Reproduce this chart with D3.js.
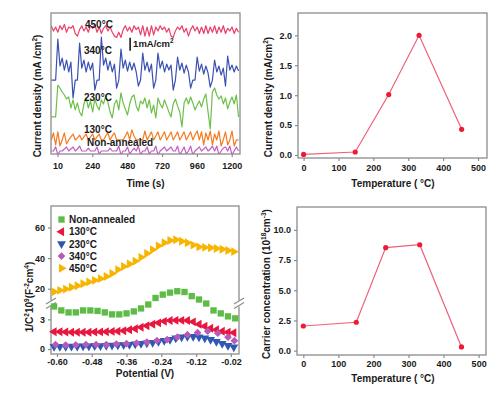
<!DOCTYPE html>
<html>
<head>
<meta charset="utf-8">
<script src="https://cdn.jsdelivr.net/npm/d3@7"></script>
<style>
  body { margin: 0; background: #fff; }
  svg text { font-family: Arial, "Liberation Sans", sans-serif; font-weight: bold; fill: #1a1a1a; }
</style>
</head>
<body>
<div id="chart"></div>
<script>
// ---- panel a: photocurrent vs time (mA/cm2 above each trace's dark level) ----
const timeStart = -43, timeStep = 15;
const traceNames = ['Non-annealed', '130°C', '230°C', '340°C', '450°C'];
const traceOffsets = [0.23, 1.08, 2.85, 5.69, 8.77];
const jNon = [0,0,0.31,-0.31,0,0,0.15,0.31,0,0.15,0.31,0,0.15,0.38,0,0,0,0.23,0,0,0,0.31,-0.23,0,0,0,0,0.23,0,0,
  0,0.38,-0.31,0,0,0.31,-0.23,0,0.23,0,0.38,-0.31,0,0,0.31,-0.23,0,0,0.38,-0.31,0,0.15,0.31,0,0.15,0.31,0,0,0.38,-0.31,
  0,0.31,-0.23,0,0.38,-0.31,0,0.15,0.31,0,0.15,0.31,0,0.15,0.38,0,0.38,-0.31,0,0.23,0.31,0,0.38,-0.31,0,0.31,0];
const j130 = [0,0.54,-0.38,0.62,-0.46,0,0.54,-0.31,0,0.23,0.46,0,0.15,0.38,0,0.23,0.46,0,0.23,0.46,0,0.23,0.46,0,0,0.31,0.54,0,0.31,0.54,
  0,0,0,0,0.31,0.62,0,0.77,0.31,0,0,0,0,0.69,0,0.31,0.62,0,0.31,0.62,0,0.31,0.62,0,0.31,0.62,0,0.31,0.62,0,
  0.31,0.62,0,0.31,0.62,0,0.38,0.69,0,0.62,-0.38,0.54,0,0.69,-0.38,0.46,0,0.69,-0.46,0,0.62,-0.38,0,0.69,-0.46,0,0];
const j230 = [0,0,0,2.46,2.23,1.92,1.69,1.38,1.54,0.69,1.31,0.54,1.08,0.38,0.08,1.0,1.46,0.69,1.23,0.38,1.38,0.85,0.54,1.31,1.0,1.62,1.15,0.38,-0.08,1.0,
  1.31,0.54,1.85,1.08,0.62,0.15,1.0,1.54,1.69,0.85,0.46,1.23,1.0,1.46,0.69,1.31,0.31,0.92,-0.08,1.46,1.0,0.69,1.31,0.85,0.38,0,1.0,1.38,0.85,0.38,
  -0.77,1.08,1.46,1.0,1.54,1.08,0.54,0.92,1.23,0.77,1.38,1.77,0.38,-0.92,1.92,2.23,1.69,1.38,1.62,1.0,1.46,0.62,1.15,1.54,1.0,1.69,0];
const j340 = [0,0,0,3.15,1.08,1.69,0.77,1.54,0.62,1.38,-1.38,0,0,2.85,0.92,1.54,0.62,1.38,0.77,1.31,-0.77,0,0,3.31,1.15,1.69,0.77,1.46,0.62,1.23,
  -0.62,0,2.38,0.92,1.54,0.69,1.38,0.77,1.31,0.62,-0.46,0,2.08,0.77,1.38,0.62,1.23,-0.62,0,2.08,0.92,1.46,0.62,1.23,0.77,1.15,-0.77,0,1.77,0.77,
  1.31,0.54,1.15,0.62,-0.62,0,0,1.77,0.69,1.23,0.46,1.08,0.54,-0.54,0,1.54,0.62,1.08,0.38,0.92,-0.46,1.85,0.77,1.15,0.62,1.08,0.69];
const j450 = [1.1,0.7,1.0,0.6,1.1,0.8,1.2,0.6,1.0,0.9,1.1,0.5,0.3,0.8,1.1,0.7,1.0,0.6,1.1,0.9,1.2,0.6,1.0,0.5,0.9,1.1,0.7,1.0,0.6,0.3,
  0.2,0.6,0.2,0.8,1.1,0.7,1.0,0.6,1.1,0.8,1.0,0.4,1.1,0.3,1.0,0.3,1.1,0.4,1.0,0.7,1.1,0.8,1.0,0.6,0.9,0.3,0.2,0.7,1.0,0.8,
  1.1,0.6,0.9,0.3,0.8,1.1,0.7,1.0,0.5,1.0,0.5,1.1,0.5,1.0,0.6,1.1,0.5,1.0,0.6,1.1,0.5,0.9,0.7,1.0,0.5,0.9,0.6];
const timeTicks = [0, 240, 480, 720, 960, 1200];
const timeTickLabels = ['10', '240', '480', '720', '960', '1200'];

// ---- panel b: current density vs temperature ----
const jTemps = [0, 148, 244, 331, 453];
const jValues = [0.01, 0.05, 1.01, 2.0, 0.43];

// ---- panel c: Mott-Schottky, 1/C^2 (10^9 F^-2 cm^4) ----
const potential = [-0.61,-0.59,-0.57,-0.55,-0.53,-0.51,-0.49,-0.47,-0.45,-0.43,-0.41,-0.39,-0.37,-0.35,-0.33,-0.31,
  -0.29,-0.27,-0.25,-0.23,-0.21,-0.19,-0.17,-0.15,-0.13,-0.11,-0.09,-0.07,-0.05,-0.03,-0.01,0.01];
const potentialNon = [-0.61,-0.585,-0.56,-0.535,-0.51,-0.485,-0.46,-0.435,-0.41,-0.385,-0.36,-0.335,-0.31,
  -0.285,-0.26,-0.235,-0.21,-0.185,-0.16,-0.135,-0.11,-0.085,-0.06,-0.035,-0.01,0.015];
const potential340 = [-0.605,-0.57,-0.535,-0.5,-0.465,-0.43,-0.395,-0.36,-0.325,-0.29,-0.255,-0.22,-0.185,
  -0.15,-0.115,-0.08,-0.045,-0.01,0.012];
const msNon = [4.3,3.9,3.7,3.7,3.9,3.9,3.85,3.7,3.5,3.5,3.6,3.8,4.1,4.5,14,16.2,17.5,18.4,17.9,15.2,13,4.6,3.9,3.6,3.3,3.1];
const ms130 = [1.75,1.75,1.72,1.7,1.7,1.7,1.7,1.72,1.73,1.75,1.78,1.8,1.85,1.95,2.05,2.2,
  2.35,2.5,2.65,2.8,2.88,2.9,2.9,2.88,2.75,2.5,2.3,2.1,1.95,1.8,1.7,1.65];
const ms230 = [0.25,0.25,0.25,0.28,0.28,0.3,0.3,0.32,0.33,0.35,0.38,0.4,0.42,0.45,0.5,0.55,
  0.6,0.65,0.75,0.85,0.95,1.1,1.2,1.25,1.25,1.2,1.1,0.95,0.75,0.55,0.35,0.2];
const ms340 = [0.45,0.4,0.42,0.45,0.45,0.45,0.5,0.55,0.6,0.7,0.85,0.95,1.2,1.45,1.65,1.8,1.6,1.2,0.85];
const ms450 = [18.0,19.0,19.8,21.0,22.0,23.3,24.5,25.5,26.6,28.0,30.0,32.5,34.5,36.2,38.0,40.5,
  43.0,45.5,48.0,50.0,51.5,52.0,51.0,50.0,48.5,47.3,47.0,46.8,46.3,45.8,45.0,44.2];
const potTicks = [-0.6, -0.48, -0.36, -0.24, -0.12, 0];
const potTickLabels = ['-0.60', '-0.48', '-0.36', '-0.24', '-0.12', '-0.02'];
const msTicks = [0, 3, 20, 40, 60];

// ---- panel d: carrier concentration vs temperature ----
const nTemps = [0, 151, 235, 332, 451];
const nValues = [2.04, 2.35, 8.53, 8.77, 0.31];

const frameColor = '#8c8c8c';
const svg = d3.select('#chart').append('svg').attr('width', 500).attr('height', 394);

function drawFrame(x0, y0, x1, y1) {
  svg.append('rect').attr('x', x0).attr('y', y0).attr('width', x1 - x0).attr('height', y1 - y0)
    .attr('fill', 'none').attr('stroke', frameColor).attr('stroke-width', 1.3);
}

function styleAxis(g) {
  g.select('.domain').remove();
  g.selectAll('.tick line').attr('stroke', frameColor).attr('stroke-width', 1.2);
  g.selectAll('.tick text').style('font-size', '9px').attr('fill', '#1a1a1a');
}

function rich(text, parts) {
  let up = false;
  parts.forEach(([s, sup]) => {
    const t = text.append('tspan').text(s);
    if (sup) {
      t.style('font-size', '6.5px');
      if (!up) { t.attr('dy', -4); up = true; }
    } else if (up) { t.attr('dy', 4); up = false; }
  });
}

function yTitle(x, y, parts) {
  const t = svg.append('text').attr('transform', `translate(${x},${y}) rotate(-90)`)
    .attr('text-anchor', 'middle').attr('dy', '0.35em').style('font-size', '10px');
  rich(t, parts);
}

function xTitle(x, y, parts) {
  const t = svg.append('text').attr('x', x).attr('y', y).attr('text-anchor', 'middle').style('font-size', '10px');
  rich(t, parts);
}

// ================= panel a =================
const x1 = d3.scaleLinear().domain([-45, 1257]).range([51, 240]);
const y1 = d3.scaleLinear().domain([0, 10.85]).range([154, 13]);

svg.append('clipPath').attr('id', 'clipA').append('rect').attr('x', 51).attr('y', 13).attr('width', 189).attr('height', 141);

const traces = [jNon, j130, j230, j340, j450];
const traceColors = ['#c65ac6', '#f47b20', '#6cc04a', '#3a50b2', '#e8406a'];
traces.forEach((vals, k) => {
  const line = d3.line()
    .x((d, i) => x1(timeStart + i * timeStep))
    .y(d => y1(traceOffsets[k] + d));
  svg.append('path').datum(vals).attr('d', line).attr('clip-path', 'url(#clipA)')
    .attr('fill', 'none').attr('stroke', traceColors[k]).attr('stroke-width', 1.2).attr('stroke-linejoin', 'round');
});

const traceLabels = [
  { text: 'Non-annealed', x: 87, y: 146 },
  { text: '130°C', x: 84, y: 133 },
  { text: '230°C', x: 84, y: 101 },
  { text: '340°C', x: 84, y: 54 },
  { text: '450°C', x: 85, y: 28 }
];
svg.selectAll('.tlab').data(traceLabels).enter().append('text')
  .attr('x', d => d.x).attr('y', d => d.y).style('font-size', '10px').text(d => d.text);

// 1 mA/cm2 scale bar
svg.append('line').attr('x1', x1(500)).attr('x2', x1(500)).attr('y1', y1(7.95)).attr('y2', y1(8.95))
  .attr('stroke', '#1a1a1a').attr('stroke-width', 1.6);
const sb = svg.append('text').attr('x', x1(500) + 3).attr('y', 47).style('font-size', '9.5px');
rich(sb, [['1mA/cm'], ['2', true]]);

drawFrame(51, 13, 240, 154);
svg.append('g').attr('transform', 'translate(0,154)')
  .call(d3.axisBottom(x1).tickValues(timeTicks).tickFormat((d, i) => timeTickLabels[i]).tickSize(3).tickPadding(6))
  .call(styleAxis);
xTitle(145.5, 187, [['Time (s)']]);
yTitle(37, 96, [['Current density (mA /cm'], ['2', true], [')']]);

// ================= panel b =================
const x2 = d3.scaleLinear().domain([-16, 525.7]).range([298, 487]);
const y2 = d3.scaleLinear().domain([-0.05, 2.368]).range([158, 13.3]);
drawFrame(298, 13, 487, 158);
svg.append('g').attr('transform', 'translate(0,158)')
  .call(d3.axisBottom(x2).tickValues([0, 100, 200, 300, 400, 500]).tickSize(3).tickPadding(4)).call(styleAxis);
svg.append('g').attr('transform', 'translate(298,0)')
  .call(d3.axisLeft(y2).tickValues([0, 0.5, 1, 1.5, 2]).tickFormat(d3.format('.1f')).tickSize(3).tickPadding(3)).call(styleAxis);
const ptsB = jTemps.map((t, i) => [t, jValues[i]]);
svg.append('path').datum(ptsB).attr('d', d3.line().x(d => x2(d[0])).y(d => y2(d[1])))
  .attr('fill', 'none').attr('stroke', '#f0607a').attr('stroke-width', 1.2);
svg.selectAll('.ptb').data(ptsB).enter().append('circle')
  .attr('cx', d => x2(d[0])).attr('cy', d => y2(d[1])).attr('r', 2.6).attr('fill', '#ee1b35');
xTitle(393, 187, [['Temperature ( °C)']]);
yTitle(268.5, 97, [['Current density (mA/cm'], ['2', true], [')']]);

// ================= panel c =================
const x3 = d3.scaleLinear().domain([-0.6206, 0.028]).range([51, 239]);
const y3 = d3.scaleLinear().domain([-0.5, 4.6, 10.4, 74]).range([354, 303.5, 303.5, 206]);
drawFrame(51, 206, 239, 354);
svg.append('g').attr('transform', 'translate(0,354)')
  .call(d3.axisBottom(x3).tickValues(potTicks).tickFormat((d, i) => potTickLabels[i]).tickSize(3).tickPadding(2))
  .call(styleAxis);
svg.append('g').attr('transform', 'translate(51,0)')
  .call(d3.axisLeft(y3).tickValues(msTicks).tickFormat(d3.format('d')).tickSize(3).tickPadding(3)).call(styleAxis);

// axis break marks
[51, 239].forEach(bx => {
  svg.append('rect').attr('x', bx - 2).attr('y', 300.5).attr('height', 6).attr('width', 4).attr('fill', '#fff');
  [0, 4.5].forEach(dyb => {
    svg.append('line').attr('x1', bx - 5).attr('y1', 304 + dyb).attr('x2', bx + 5).attr('y2', 298 + dyb)
      .attr('stroke', frameColor).attr('stroke-width', 1.2);
  });
});

const msSeries = [
  { name: 'Non-annealed', xs: potentialNon, ys: msNon, color: '#5dbb46', type: d3.symbolSquare, rot: 0, size: 40 },
  { name: '130°C', xs: potential, ys: ms130, color: '#e8173f', type: d3.symbolTriangle, rot: -90, size: 34 },
  { name: '230°C', xs: potential, ys: ms230, color: '#2f58b4', type: d3.symbolTriangle, rot: 180, size: 34 },
  { name: '340°C', xs: potential340, ys: ms340, color: '#b65ab8', type: d3.symbolSquare, rot: 45, size: 30 },
  { name: '450°C', xs: potential, ys: ms450, color: '#f7b500', type: d3.symbolTriangle, rot: 90, size: 34 }
];
msSeries.forEach(s => {
  const sym = d3.symbol().type(s.type).size(s.size);
  svg.append('g').selectAll('path').data(s.xs.map((v, i) => [v, s.ys[i]])).enter().append('path')
    .attr('d', sym).attr('fill', s.color)
    .attr('transform', d => `translate(${x3(d[0])},${y3(d[1])}) rotate(${s.rot})`);
});

// legend
msSeries.forEach((s, i) => {
  const ly = 219.5 + i * 12.2;
  svg.append('path').attr('d', d3.symbol().type(s.type).size(s.size)()).attr('fill', s.color)
    .attr('transform', `translate(61.5,${ly}) rotate(${s.rot})`);
  svg.append('text').attr('x', 69).attr('y', ly + 3.6).style('font-size', '10px').text(s.name);
});
xTitle(145, 377, [['Potential (V)']]);
yTitle(29, 297, [['1/C'], ['2', true], ['10'], ['9', true], ['(F'], ['-2', true], ['cm'], ['4', true], [')']]);

// ================= panel d =================
const x4 = d3.scaleLinear().domain([-18, 521]).range([297, 486]);
const y4 = d3.scaleLinear().domain([-0.36, 11.87]).range([355, 207.3]);
drawFrame(297, 207, 486, 355);
svg.append('g').attr('transform', 'translate(0,355)')
  .call(d3.axisBottom(x4).tickValues([0, 100, 200, 300, 400, 500]).tickSize(3).tickPadding(3)).call(styleAxis);
svg.append('g').attr('transform', 'translate(297,0)')
  .call(d3.axisLeft(y4).tickValues([0, 2.5, 5, 7.5, 10]).tickFormat(d3.format('.1f')).tickSize(3).tickPadding(3)).call(styleAxis);
const ptsD = nTemps.map((t, i) => [t, nValues[i]]);
svg.append('path').datum(ptsD).attr('d', d3.line().x(d => x4(d[0])).y(d => y4(d[1])))
  .attr('fill', 'none').attr('stroke', '#f0607a').attr('stroke-width', 1.2);
svg.selectAll('.ptd').data(ptsD).enter().append('circle')
  .attr('cx', d => x4(d[0])).attr('cy', d => y4(d[1])).attr('r', 2.6).attr('fill', '#ee1b35');
xTitle(393, 382, [['Temperature ( °C)']]);
yTitle(266.5, 284, [['Carrier concentration (10'], ['18', true], ['cm'], ['-3', true], [')']]);
</script>
</body>
</html>
